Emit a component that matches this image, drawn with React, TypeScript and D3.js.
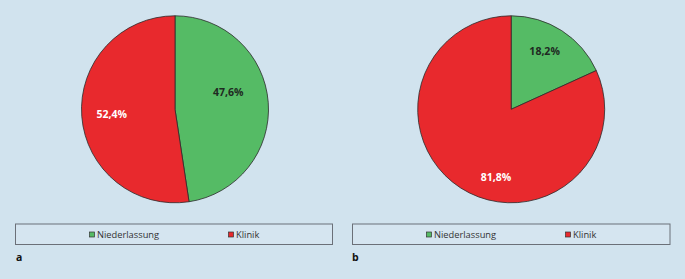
import React from "react";
import * as d3 from "d3";

const categories = ["Niederlassung", "Klinik"];
const valuesA = [47.6, 52.4];
const valuesB = [18.2, 81.8];
const labelsA = ["47,6%", "52,4%"];
const labelsB = ["18,2%", "81,8%"];
const panelLetters = ["a", "b"];
const colors = ["#55bb65", "#e8292d"];
const labelColors = ["#1f2a22", "#ffffff"];
// label placement (radius fraction, angle shift in degrees) per slice
const labelRadA = [0.6, 0.68];
const labelShiftA = [-14, 0];
const labelRadB = [0.72, 0.74];
const labelShiftB = [-3, -20];

const W = 685;
const H = 279;
const BG = "#d1e3ee";

function Pie({ cx, cy, r, values, labels, rads, shifts }: any) {
  const pie = d3.pie<number>().sort(null).value((d) => d);
  const arcs = pie(values);
  const arc = d3.arc<d3.PieArcDatum<number>>().innerRadius(0).outerRadius(r);
  return (
    <g transform={`translate(${cx},${cy})`}>
      {arcs.map((a, i) => (
        <path key={i} d={arc(a) || ""} fill={colors[i]} stroke="#2b2b2b" strokeWidth={0.8} />
      ))}
      {arcs.map((a, i) => {
        const mid = (a.startAngle + a.endAngle) / 2 + (shifts[i] * Math.PI) / 180;
        const rr = r * rads[i];
        const x = Math.sin(mid) * rr;
        const y = -Math.cos(mid) * rr;
        return (
          <text
            key={i}
            x={x}
            y={y}
            textAnchor="middle"
            dominantBaseline="central"
            fontFamily="'Open Sans', sans-serif"
            fontWeight={700}
            fontSize={10.5}
            fill={labelColors[i]}
          >
            {labels[i]}
          </text>
        );
      })}
    </g>
  );
}

function Legend({ x, y, w, h, ox }: any) {
  const pos = d3.scalePoint<string>().domain(categories).range([0, 139]);
  return (
    <g>
      <rect x={x} y={y} width={w} height={h} fill="#d5e5f0" stroke="#6b7078" strokeWidth={1} />
      {categories.map((c, i) => {
        const lx = ox + (pos(c) || 0);
        return (
          <g key={c}>
            <rect x={lx} y={y + 8} width={5} height={5} fill={colors[i]} stroke="#333" strokeWidth={0.7} />
            <text
              x={lx + 7.5}
              y={y + 10.8}
              dominantBaseline="central"
              fontFamily="'Open Sans', sans-serif"
              fontSize={9.3}
              fill="#333"
            >
              {c}
            </text>
          </g>
        );
      })}
    </g>
  );
}

export default function App() {
  return (
    <svg width={W} height={H} style={{ display: "block", position: "absolute", left: 0, top: 0 }}>
      <rect x={0} y={0} width={W} height={H} fill={BG} />
      <Pie cx={175} cy={109.3} r={93.5} values={valuesA} labels={labelsA} rads={labelRadA} shifts={labelShiftA} />
      <Pie cx={511.2} cy={109.3} r={93.5} values={valuesB} labels={labelsB} rads={labelRadB} shifts={labelShiftB} />
      <Legend x={15.5} y={224} w={317} h={20.5} ox={89.5} />
      <Legend x={352.5} y={224} w={317.5} h={20.5} ox={426.5} />
      {panelLetters.map((l, i) => (
        <text
          key={l}
          x={i === 0 ? 16 : 352}
          y={260.5}
          fontFamily="'Open Sans', sans-serif"
          fontWeight={700}
          fontSize={10.5}
          fill="#111"
        >
          {l}
        </text>
      ))}
    </svg>
  );
}
